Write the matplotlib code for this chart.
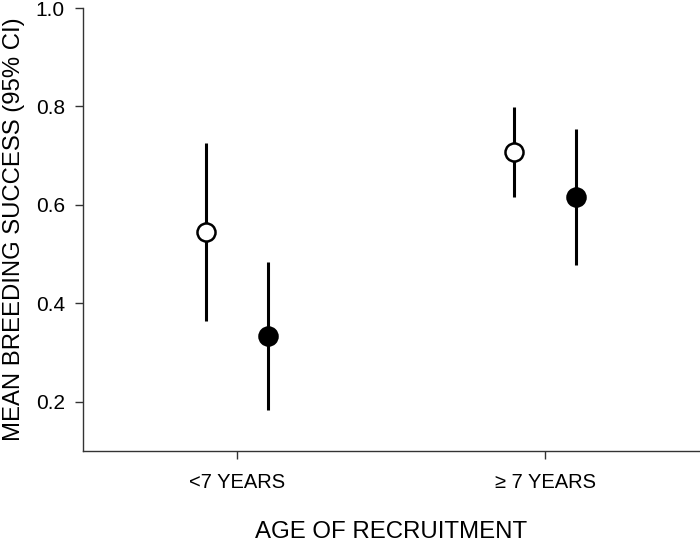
import matplotlib
matplotlib.use("Agg")
import matplotlib.pyplot as plt
import numpy as np

plt.rcParams['font.family'] = ['Liberation Sans', 'DejaVu Sans']

categories = ["<7 YEARS", "\u2265 7 YEARS"]
open_mean = [0.545, 0.707]
open_low = [0.364, 0.616]
open_high = [0.726, 0.799]
filled_mean = [0.333, 0.616]
filled_low = [0.183, 0.478]
filled_high = [0.484, 0.754]
yticks = [0.2, 0.4, 0.6, 0.8, 1.0]

fig = plt.figure(figsize=(7.0, 5.42), dpi=100)
ax = fig.add_axes([0.1186, 0.168, 0.88, 0.8172])

x = np.arange(1, len(categories) + 1)
off = 0.1

def plot_series(xpos, mean, low, high, face):
    mean = np.array(mean); low = np.array(low); high = np.array(high)
    ax.errorbar(xpos, mean, yerr=[mean - low, high - mean], fmt='o', color='black',
                ecolor='black', elinewidth=2.2, capsize=0, markersize=13,
                markerfacecolor=face, markeredgecolor='black', markeredgewidth=1.8,
                zorder=3)

plot_series(x - off, open_mean, open_low, open_high, 'white')
plot_series(x + off, filled_mean, filled_low, filled_high, 'black')

ax.set_xlim(0.5, 2.5)
ax.set_ylim(0.1, 1.0)
ax.set_xticks(x)
ax.set_xticklabels(categories, fontsize=14.5)
ax.set_yticks(yticks)
ax.set_yticklabels([f"{v:.1f}" for v in yticks], fontsize=15)
ax.spines['top'].set_visible(False)
ax.spines['right'].set_visible(False)
for s in ['left', 'bottom']:
    ax.spines[s].set_linewidth(1.0)
    ax.spines[s].set_color('#333333')
ax.tick_params(axis='y', direction='out', length=6, width=1.0, pad=7, color='#333333')
ax.tick_params(axis='x', direction='out', length=6, width=1.0, pad=10, color='#333333')
ax.set_xlabel("AGE OF RECRUITMENT", fontsize=17.3, labelpad=21)
ax.set_ylabel("MEAN BREEDING SUCCESS (95% CI)", fontsize=17.2, labelpad=8)

fig.savefig("out.png", dpi=100)
